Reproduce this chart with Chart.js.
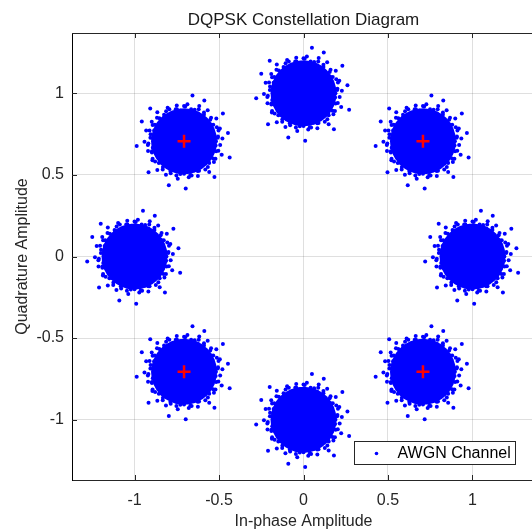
<!DOCTYPE html>
<html>
<head>
<meta charset="utf-8">
<script src="https://cdn.jsdelivr.net/npm/chart.js@4.4.0/dist/chart.umd.min.js"></script>
<style>
  html, body { margin: 0; padding: 0; background: #fff; overflow: hidden; }
  #wrap { position: relative; width: 608px; height: 530px; }
</style>
</head>
<body>
<div id="wrap"><canvas id="constChart"></canvas></div>
<script>
// DQPSK symbol positions (centre of each received cloud)
const symbolI = [1, 0.707, 0, -0.707, -1, -0.707, 0, 0.707];
const symbolQ = [0, 0.707, 1, 0.707, 0, -0.707, -1, -0.707];

// reference constellation (red +)
const refI = [0.707, -0.707, -0.707, 0.707];
const refQ = [0.707, 0.707, -0.707, -0.707];

// samples on the fuzzy fringe of a cloud and a few strays, offsets from its centre
const noiseI = [
  0.189, 0.201, 0.173, 0.194, 0.160, 0.155, 0.121, 0.118, 0.083, 0.063, 0.032, 0.007,
  -0.020, -0.049, -0.068, -0.106, -0.116, -0.146, -0.146, -0.186, -0.177, -0.198, -0.180,
  -0.211, -0.185, -0.190, -0.159, -0.171, -0.136, -0.125, -0.090, -0.079, -0.046, -0.022,
  0.006, 0.037, 0.059, 0.089, 0.101, 0.141, 0.145, 0.172, 0.165, 0.203, 0.187,
  0.227, 0.212, 0.191, 0.140, 0.090, 0.020, -0.043, -0.097, -0.158, -0.191, -0.224, -0.234,
  -0.213, -0.187, -0.158, -0.107, -0.037, 0.028, 0.082, 0.149, 0.177, 0.223,
  0.199, 0.204, 0.173, 0.160, 0.118, 0.087, 0.042, 0.000, -0.042, -0.087, -0.118, -0.160,
  -0.173, -0.204, -0.199, -0.214, -0.190, -0.186, -0.149, -0.126, -0.081, -0.045, 0.000, 0.045,
  0.081, 0.126, 0.149, 0.186, 0.190, 0.214,
  0.26, 0.05, -0.25, -0.09, 0.18, 0.27, -0.20, 0.12, -0.28, 0.01, 0.23, -0.21
];
const noiseQ = [
  0.000, 0.028, 0.050, 0.086, 0.100, 0.131, 0.134, 0.176, 0.170, 0.193, 0.177, 0.212,
  0.188, 0.196, 0.167, 0.184, 0.149, 0.140, 0.106, 0.099, 0.065, 0.042, 0.013,
  -0.014, -0.040, -0.069, -0.085, -0.124, -0.131, -0.159, -0.156, -0.196, -0.184, -0.202,
  -0.180, -0.208, -0.180, -0.182, -0.149, -0.158, -0.122, -0.107, -0.073, -0.059, -0.026,
  0.016, 0.077, 0.139, 0.190, 0.216, 0.226, 0.219, 0.205, 0.177, 0.119, 0.065, -0.004,
  -0.061, -0.117, -0.177, -0.206, -0.230, -0.221, -0.214, -0.189, -0.128, -0.084,
  0.021, 0.066, 0.100, 0.144, 0.162, 0.196, 0.196, 0.215, 0.196, 0.196, 0.162, 0.144,
  0.100, 0.066, 0.021, -0.023, -0.062, -0.108, -0.134, -0.174, -0.183, -0.210, -0.200, -0.210,
  -0.183, -0.174, -0.134, -0.108, -0.062, -0.023,
  0.05, 0.28, 0.12, -0.27, -0.22, -0.10, 0.20, 0.25, -0.03, -0.29, 0.17, -0.19
];

const xTicks = [-1, -0.5, 0, 0.5, 1];
const yTicks = [-1, -0.5, 0, 0.5, 1];
const axisMin = -1.37;
const axisMax = 1.37;
const titleText = 'DQPSK Constellation Diagram';

const FONT = 'Liberation Sans, Arial, Helvetica, sans-serif';
const INK = '#262626';
const GRID = 'rgba(38,38,38,0.15)';

const awgnPts = [];
symbolI.forEach(function (ci, c) {
    noiseI.forEach(function (di, k) {
        awgnPts.push({ x: ci + di, y: symbolQ[c] + noiseQ[k] });
    });
});
const corePts = symbolI.map(function (ci, c) { return { x: ci, y: symbolQ[c] }; });
const refPts = refI.map(function (ri, r) { return { x: ri, y: refQ[r] }; });

/* ===== title, box, inward ticks and legend, drawn the MATLAB way ===== */
const matlabFrame = {
    id: 'matlabFrame',
    afterDatasetsDraw(chart) {
        const { ctx, chartArea: a, scales } = chart;
        ctx.save();
        ctx.strokeStyle = INK;
        ctx.lineWidth = 1;
        ctx.beginPath();
        ctx.moveTo(a.left, Math.round(a.top) + 0.5);
        ctx.lineTo(a.right, Math.round(a.top) + 0.5);
        xTicks.forEach(function (v) {
            const px = Math.round(scales.x.getPixelForValue(v)) + 0.5;
            ctx.moveTo(px, a.bottom); ctx.lineTo(px, a.bottom - 5);
            ctx.moveTo(px, a.top); ctx.lineTo(px, a.top + 5);
        });
        yTicks.forEach(function (v) {
            const py = Math.round(scales.y.getPixelForValue(v)) + 0.5;
            ctx.moveTo(a.left, py); ctx.lineTo(a.left + 5, py);
        });
        ctx.stroke();

        // title centred over the axes
        ctx.fillStyle = '#1a1a1a';
        ctx.font = '17px ' + FONT;
        ctx.textAlign = 'center';
        ctx.textBaseline = 'middle';
        ctx.fillText(titleText, (a.left + a.right) / 2, 20.5);

        // legend box
        const bx = Math.round(a.right) - 181 + 0.5;
        const by = Math.round(a.bottom) - 39 + 0.5;
        ctx.fillStyle = '#fff';
        ctx.fillRect(bx, by, 161, 23);
        ctx.strokeRect(bx, by, 161, 23);
        ctx.fillStyle = '#0000ff';
        ctx.beginPath();
        ctx.arc(bx + 22, by + 12, 1.8, 0, Math.PI * 2);
        ctx.fill();
        ctx.fillStyle = '#000';
        ctx.font = '16px ' + FONT;
        ctx.textAlign = 'left';
        ctx.fillText(chart.data.datasets[0].label, bx + 43, by + 12);
        ctx.restore();
    }
};

new Chart(document.getElementById('constChart'), {
    type: 'scatter',
    data: {
        datasets: [{
            label: 'AWGN Channel',
            data: awgnPts,
            backgroundColor: '#0000ff',
            borderWidth: 0,
            pointRadius: 2,
            order: 1
        }, {
            label: 'core',
            data: corePts,
            backgroundColor: '#0000ff',
            borderWidth: 0,
            pointRadius: 33,
            order: 2
        }, {
            label: 'Reference',
            data: refPts,
            pointStyle: 'cross',
            borderColor: '#ff0000',
            backgroundColor: '#ff0000',
            borderWidth: 2.5,
            pointRadius: 6.5,
            order: 0
        }]
    },
    options: {
        responsive: true,
        maintainAspectRatio: false,
        animation: false,
        events: [],
        layout: { padding: { left: 0, top: 33, right: 73, bottom: 0 } },
        plugins: {
            legend: { display: false },
            tooltip: { enabled: false },
            title: { display: false }
        },
        scales: {
            x: {
                type: 'linear',
                min: axisMin,
                max: axisMax,
                afterBuildTicks(scale) { scale.ticks = xTicks.map(function (v) { return { value: v }; }); },
                afterFit(scale) { scale.height = 50; },
                grid: { color: GRID, drawTicks: false },
                border: { color: INK, width: 1 },
                ticks: {
                    color: INK, padding: 11, maxRotation: 0,
                    font: { family: FONT, size: 16 },
                    callback: function (v) { return String(v); }
                },
                title: {
                    display: true,
                    text: 'In-phase Amplitude',
                    color: INK,
                    font: { family: FONT, size: 16, lineHeight: 1 },
                    padding: { top: 0, bottom: 0 }
                }
            },
            y: {
                type: 'linear',
                min: axisMin,
                max: axisMax,
                afterBuildTicks(scale) { scale.ticks = yTicks.map(function (v) { return { value: v }; }); },
                afterFit(scale) { scale.width = 72; },
                grid: { color: GRID, drawTicks: false },
                border: { color: '#000', width: 1 },
                ticks: {
                    color: INK, padding: 8,
                    font: { family: FONT, size: 16 },
                    callback: function (v) { return String(v); }
                },
                title: {
                    display: true,
                    text: 'Quadrature Amplitude',
                    color: INK,
                    font: { family: FONT, size: 16, lineHeight: 1 },
                    padding: { top: 15, bottom: 0 }
                }
            }
        }
    },
    plugins: [matlabFrame]
});
</script>
</body>
</html>
